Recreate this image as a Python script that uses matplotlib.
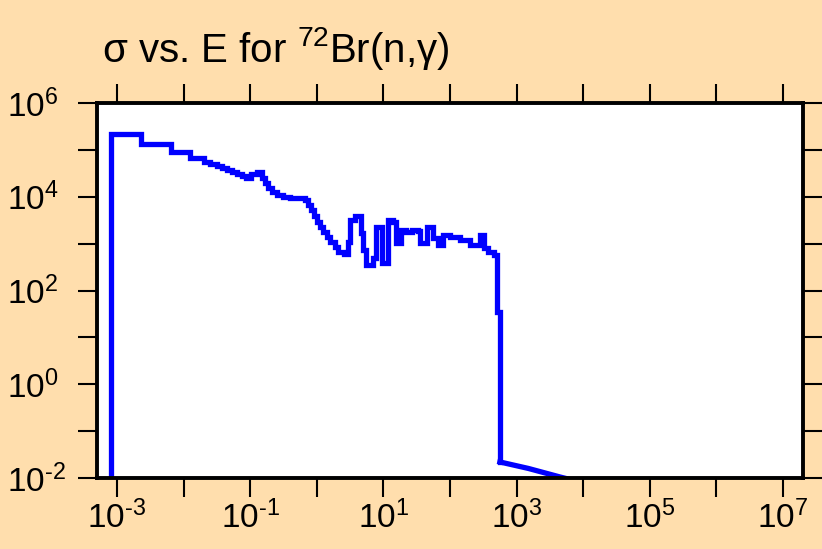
import math
import matplotlib
matplotlib.use("Agg")
import matplotlib.pyplot as plt
from matplotlib.ticker import LogLocator, FuncFormatter, NullLocator

plt.rcParams['font.family'] = ['Liberation Sans', 'DejaVu Sans']
plt.rcParams['mathtext.fontset'] = 'custom'
plt.rcParams['mathtext.rm'] = 'Liberation Sans'
plt.rcParams['mathtext.it'] = 'Liberation Sans'

# step edges (eV) and cross section (b)
energy = [8.1e-4, 8.1e-4, 2.3e-3, 6.5e-3, 1.26e-2, 2.0e-2, 2.5e-2, 3.2e-2, 3.8e-2,
          4.5e-2, 5.3e-2, 6.3e-2, 7.5e-2, 8.7e-2, 0.102, 0.126, 0.15, 0.167,
          0.185, 0.21, 0.25, 0.31, 0.40, 0.66, 0.74, 0.81, 0.91, 1.0, 1.12,
          1.23, 1.41, 1.6, 1.86, 2.1, 2.6, 2.9, 3.2, 3.7, 4.6, 4.9, 5.5, 6.9,
          7.7, 9.5, 11.7, 13.9, 15.5, 18.3, 22, 27, 33, 36, 45, 55, 66, 78,
          100, 141, 200, 282, 324, 370, 460, 510, 560]
sigma = [1e-4, 2.2e5, 1.35e5, 9.1e4, 6.8e4, 5.5e4, 5.0e4, 4.6e4, 4.1e4,
         3.7e4, 3.4e4, 3.1e4, 2.8e4, 2.5e4, 3.1e4, 3.4e4, 2.5e4, 2.0e4,
         1.5e4, 1.27e4, 1.1e4, 1.0e4, 9.4e3, 8.5e3, 6.7e3, 5.3e3, 3.9e3, 2.9e3,
         2.3e3, 1.8e3, 1.4e3, 1.1e3, 860, 670, 600, 1.1e3, 3.2e3, 3.9e3, 1.7e3,
         740, 350, 500, 2.3e3, 390, 3.2e3, 2.9e3, 1.02e3, 2.0e3, 1.8e3, 2.0e3,
         1.9e3, 1.02e3, 2.3e3, 1.3e3, 930, 1.55e3, 1.4e3, 1.2e3, 930, 1.55e3,
         810, 660, 570, 35, 0.022]

# high-energy tail (fine bins, looks like a straight line)
tail_energy = [560, 1500, 4500, 1e5, 2e7]
tail_sigma = [0.022, 0.016, 0.0105, 0.0035, 5e-4]

x_labeled = [-3, -1, 1, 3, 5, 7]
y_labeled = [-2, 0, 2, 4, 6]

bg = '#FFDEAD'
fig = plt.figure(figsize=(8.22, 5.49), dpi=100, facecolor=bg)
ax = fig.add_axes([0.118, 0.1293, 0.859, 0.6831])
ax.set_facecolor('white')

ax.step(energy, sigma, where='post', color='#0000FF', linewidth=3.8,
        solid_joinstyle='miter')
ax.plot(tail_energy, tail_sigma, color='#0000FF', linewidth=3.8,
        solid_joinstyle='miter')

ax.set_xscale('log')
ax.set_yscale('log')
ax.set_xlim(5e-4, 2e7)
ax.set_ylim(1e-2, 1e6)

ax.xaxis.set_major_locator(LogLocator(base=10, numticks=30))
ax.yaxis.set_major_locator(LogLocator(base=10, numticks=30))
ax.xaxis.set_minor_locator(NullLocator())
ax.yaxis.set_minor_locator(NullLocator())


def make_fmt(keep):
    def fmt(v, pos):
        e = int(round(math.log10(v)))
        if e in keep:
            if e < 0:
                return r'$\mathregular{10^{\text{-}%d}}$' % (-e)
            return r'$\mathregular{10^{%d}}$' % e
        return ''
    return fmt


ax.xaxis.set_major_formatter(FuncFormatter(make_fmt(x_labeled)))
ax.yaxis.set_major_formatter(FuncFormatter(make_fmt(y_labeled)))

ax.tick_params(which='major', direction='out', length=14, width=1.5,
               top=True, right=True, labelsize=24, color='black')
ax.tick_params(axis='x', pad=2)
ax.tick_params(axis='y', pad=51)
for lab in ax.get_yticklabels():
    lab.set_horizontalalignment('left')

for sp in ax.spines.values():
    sp.set_linewidth(2.8)

fig.text(102 / 822, 1 - 62 / 549, r'σ vs. E for $\mathregular{^{72}}$Br(n,γ)',
         fontsize=29, ha='left', va='baseline')

fig.savefig('out.png', dpi=100, facecolor=bg)
